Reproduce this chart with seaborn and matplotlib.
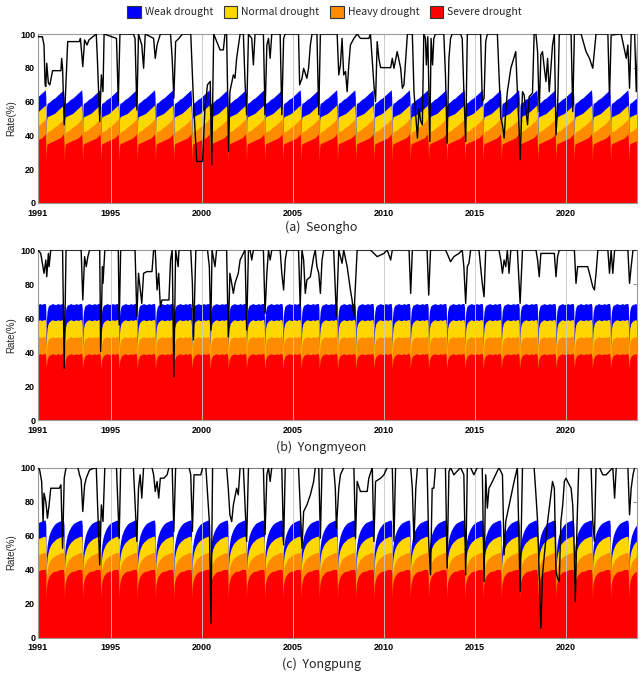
import numpy as np
import pandas as pd
import matplotlib
matplotlib.use("Agg")
import matplotlib.pyplot as plt
from matplotlib.patches import Patch
import seaborn as sns

# ---------------- data ----------------
years = list(range(1991, 2024))
band_names = ["Weak drought", "Normal drought", "Heavy drought", "Severe drought"]
band_colors = ["#0000FF", "#FFD700", "#FF8C00", "#FF0000"]
panel_titles = ["(a)  Seongho", "(b)  Yongmyeon", "(c)  Yongpung"]
xtick_years = [1991, 1995, 2000, 2005, 2010, 2015, 2020]
ytick_vals = [0, 20, 40, 60, 80, 100]

# annual criterion profiles (fraction of year -> upper limit of each drought class, %)
a_frac = [0.00, 0.10, 0.20, 0.30, 0.40, 0.43, 0.45, 0.47, 0.50, 0.60, 0.70, 0.80, 0.90, 1.00]
a_weak = [63.0, 64.0, 65.0, 66.0, 67.0, 62.0, 38.0, 57.0, 59.0, 59.5, 60.5, 61.5, 62.0, 63.0]
a_normal = [54.0, 55.0, 56.0, 57.0, 58.0, 52.0, 33.0, 49.0, 51.0, 51.5, 52.0, 52.5, 53.0, 54.0]
a_heavy = [45.5, 46.5, 47.5, 48.5, 50.0, 44.0, 28.0, 40.0, 42.0, 42.5, 43.0, 44.0, 45.0, 45.5]
a_severe = [37.5, 38.0, 38.5, 39.5, 41.0, 36.0, 24.5, 33.0, 35.0, 35.5, 36.0, 36.5, 37.0, 37.5]

b_frac = [0.00, 0.10, 0.20, 0.30, 0.40, 0.43, 0.45, 0.47, 0.50, 0.55, 0.60, 0.70, 0.80, 0.90, 1.00]
b_weak = [68.0, 68.5, 68.0, 68.5, 68.5, 66.0, 47.0, 60.0, 64.0, 66.5, 67.5, 68.0, 68.5, 68.0, 68.0]
b_normal = [58.5, 59.0, 58.5, 59.0, 59.0, 56.0, 41.0, 50.0, 54.0, 56.5, 57.5, 58.5, 59.0, 58.5, 58.5]
b_heavy = [48.5, 49.0, 48.5, 49.0, 49.0, 46.0, 35.0, 42.0, 45.0, 47.0, 48.0, 48.5, 49.0, 48.5, 48.5]
b_severe = [38.5, 39.0, 38.5, 39.0, 39.0, 36.5, 30.0, 33.0, 35.5, 37.0, 38.0, 38.5, 39.0, 38.5, 38.5]

c_frac = [0.00, 0.10, 0.20, 0.30, 0.40, 0.43, 0.45, 0.47, 0.50, 0.55, 0.60, 0.70, 0.80, 0.90, 1.00]
c_weak = [67.5, 68.0, 68.5, 69.0, 69.0, 66.0, 36.0, 50.0, 54.0, 57.5, 60.0, 63.0, 65.0, 66.5, 67.5]
c_normal = [58.0, 58.5, 59.0, 59.5, 59.5, 56.0, 30.0, 43.0, 47.0, 50.0, 52.0, 54.5, 56.0, 57.0, 58.0]
c_heavy = [48.5, 49.0, 49.5, 50.0, 50.0, 47.0, 26.0, 37.0, 40.0, 42.5, 44.0, 46.0, 47.0, 48.0, 48.5]
c_severe = [39.0, 39.5, 40.0, 40.0, 40.0, 37.0, 23.0, 30.0, 32.5, 34.5, 36.0, 37.5, 38.5, 39.0, 39.0]

# storage rate (%) of each reservoir: (decimal year, value)
a_time = [1991.00, 1991.24, 1991.33, 1991.39, 1991.43, 1991.48, 1991.57, 1991.65, 1991.70, 1991.80,
          1992.26, 1992.30, 1992.35, 1992.44, 1992.63, 1993.28, 1993.33, 1993.46, 1993.56, 1993.69,
          1993.80, 1994.20, 1994.26, 1994.39, 1994.48, 1994.57, 1994.63, 1995.31, 1995.41, 1995.50,
          1996.24, 1996.33, 1996.43, 1996.52, 1996.70, 1996.80, 1996.89, 1997.35, 1997.44, 1997.54,
          1997.72, 1998.28, 1998.37, 1998.46, 1998.56, 1998.74, 1998.93, 1999.39, 1999.54, 1999.72,
          2000.04, 2000.17, 2000.31, 2000.46, 2000.54, 2000.65, 2001.00, 2001.18, 2001.27, 2001.36,
          2001.47, 2001.54, 2001.73, 2001.82, 2001.91, 2002.10, 2002.28, 2002.37, 2002.46, 2002.56,
          2002.74, 2002.83, 2002.92, 2003.38, 2003.47, 2003.57, 2003.66, 2003.75, 2003.84, 2004.30,
          2004.39, 2004.49, 2004.58, 2005.31, 2005.37, 2005.50, 2005.59, 2005.77, 2005.86, 2005.96,
          2006.05, 2006.32, 2006.42, 2006.51, 2007.43, 2007.52, 2007.61, 2007.70, 2007.79, 2007.89,
          2007.98, 2008.07, 2008.16, 2008.35, 2008.53, 2008.71, 2009.17, 2009.26, 2009.45, 2009.54,
          2009.63, 2009.72, 2009.82, 2010.37, 2010.46, 2010.55, 2010.73, 2010.92, 2011.01, 2011.10,
          2011.29, 2011.56, 2011.65, 2011.84, 2011.93, 2012.02, 2012.11, 2012.19, 2012.28, 2012.33,
          2012.41, 2012.52, 2012.59, 2012.67, 2012.74, 2012.83, 2013.29, 2013.38, 2013.47, 2013.57,
          2013.66, 2013.75, 2014.21, 2014.30, 2014.39, 2014.49, 2014.58, 2015.31, 2015.40, 2015.50,
          2015.59, 2015.68, 2016.23, 2016.42, 2016.51, 2016.60, 2016.69, 2016.78, 2016.97, 2017.24,
          2017.33, 2017.43, 2017.48, 2017.61, 2017.70, 2017.89, 2017.98, 2018.16, 2018.25, 2018.35,
          2018.44, 2018.53, 2018.62, 2018.71, 2018.81, 2018.90, 2018.99, 2019.08, 2019.26, 2019.36,
          2019.45, 2019.54, 2019.63, 2020.28, 2020.37, 2020.46, 2020.83, 2021.10, 2021.29, 2021.47,
          2021.56, 2021.65, 2022.30, 2022.39, 2022.48, 2023.03, 2023.31, 2023.40, 2023.49, 2023.58,
          2023.77, 2023.86, 2023.95]
a_rate = [98.4, 98.4, 93.5, 69.9, 68.9, 82.7, 70.9, 69.9, 72.8, 78.3,
          78.3, 85.6, 79.7, 46.3, 95.5, 95.5, 97.4, 80.7, 96.5, 93.5,
          96.5, 100.0, 85.6, 48.2, 75.8, 65.9, 100.0, 97.4, 60.0, 100.0,
          100.0, 97.4, 55.0, 100.0, 93.5, 79.7, 100.0, 97.4, 85.6, 93.5,
          100.0, 100.0, 85.6, 62.0, 95.5, 97.4, 100.0, 100.0, 60.0, 24.6,
          24.6, 56.0, 70.0, 72.0, 22.6, 100.0, 90.6, 90.6, 100.0, 100.0,
          30.5, 65.9, 75.8, 73.8, 85.6, 100.0, 100.0, 72.0, 52.2, 100.0,
          97.4, 81.7, 100.0, 100.0, 52.2, 93.5, 97.4, 85.6, 100.0, 100.0,
          52.2, 97.4, 100.0, 100.0, 69.9, 73.8, 79.7, 73.8, 79.7, 93.5,
          100.0, 100.0, 52.2, 100.0, 100.0, 75.8, 81.7, 97.4, 75.8, 77.8,
          65.9, 81.7, 93.5, 97.4, 100.0, 97.4, 97.4, 100.0, 69.9, 60.0,
          95.5, 85.6, 80.1, 80.1, 85.6, 79.7, 89.6, 79.7, 67.9, 69.9,
          100.0, 100.0, 65.9, 38.4, 56.1, 48.2, 46.3, 100.0, 97.4, 81.7,
          98.4, 36.4, 97.4, 81.7, 97.4, 100.0, 100.0, 75.8, 35.4, 85.6,
          97.4, 100.0, 100.0, 97.4, 65.9, 36.4, 100.0, 100.0, 60.0, 62.0,
          95.5, 100.0, 100.0, 50.2, 46.3, 38.4, 54.1, 65.9, 79.7, 89.6,
          65.9, 42.3, 25.6, 65.9, 64.0, 46.3, 63.0, 65.0, 100.0, 100.0,
          89.6, 54.1, 87.6, 89.6, 79.7, 71.9, 85.6, 65.9, 93.5, 100.0,
          40.4, 56.1, 100.0, 100.0, 54.1, 100.0, 100.0, 89.6, 85.6, 79.7,
          89.6, 100.0, 100.0, 62.0, 99.4, 100.0, 85.6, 93.5, 67.9, 100.0,
          100.0, 65.9, 99.4]

b_time = [1991.00, 1991.15, 1991.24, 1991.33, 1991.43, 1991.48, 1991.57, 1991.61, 1991.70, 1992.35,
          1992.44, 1992.54, 1993.37, 1993.46, 1993.56, 1993.65, 1993.74, 1993.83, 1994.39, 1994.44,
          1994.54, 1994.57, 1994.67, 1995.41, 1995.46, 1995.54, 1996.33, 1996.43, 1996.52, 1996.70,
          1996.80, 1996.98, 1997.26, 1997.35, 1997.44, 1997.54, 1997.63, 1997.72, 1997.81, 1998.19,
          1998.28, 1998.37, 1998.46, 1998.56, 1998.70, 1998.74, 1999.39, 1999.48, 1999.54, 1999.67,
          2000.31, 2000.41, 2000.49, 2000.56, 2000.72, 2000.81, 2001.36, 2001.45, 2001.54, 2001.64,
          2001.73, 2001.82, 2002.00, 2002.10, 2002.19, 2002.37, 2002.46, 2002.56, 2002.65, 2002.74,
          2002.83, 2003.38, 2003.47, 2003.57, 2003.66, 2003.75, 2003.84, 2004.30, 2004.39, 2004.49,
          2004.58, 2004.67, 2005.31, 2005.40, 2005.50, 2005.59, 2005.68, 2005.77, 2005.96, 2006.14,
          2006.23, 2006.32, 2006.42, 2006.51, 2006.60, 2006.69, 2007.24, 2007.39, 2007.52, 2007.70,
          2007.79, 2007.98, 2008.16, 2008.25, 2008.35, 2008.44, 2008.53, 2009.26, 2009.45, 2009.63,
          2010.00, 2010.18, 2010.37, 2010.46, 2011.38, 2011.47, 2011.56, 2012.37, 2012.46, 2012.56,
          2013.38, 2013.47, 2013.66, 2013.84, 2014.12, 2014.30, 2014.39, 2014.49, 2014.58, 2014.67,
          2014.76, 2015.22, 2015.40, 2015.50, 2015.59, 2016.32, 2016.42, 2016.51, 2016.60, 2016.69,
          2016.78, 2016.87, 2016.97, 2017.33, 2017.48, 2017.61, 2018.35, 2018.44, 2018.53, 2018.62,
          2019.36, 2019.45, 2019.54, 2019.63, 2020.46, 2020.55, 2020.64, 2021.19, 2021.29, 2021.47,
          2021.56, 2021.65, 2021.75, 2022.30, 2022.39, 2022.48, 2022.57, 2022.67, 2023.40, 2023.49,
          2023.58, 2023.68, 2023.95]
b_rate = [100.0, 98.0, 92.2, 86.3, 94.1, 84.3, 98.0, 90.2, 100.0, 100.0,
          30.4, 100.0, 100.0, 70.6, 96.1, 90.2, 96.1, 100.0, 100.0, 40.2,
          90.2, 80.4, 100.0, 100.0, 55.9, 100.0, 100.0, 60.8, 86.3, 68.6,
          86.3, 87.3, 87.3, 100.0, 100.0, 76.5, 86.3, 66.7, 70.6, 70.6,
          94.1, 100.0, 25.5, 100.0, 90.2, 100.0, 100.0, 80.4, 47.1, 100.0,
          100.0, 90.2, 52.9, 100.0, 90.2, 100.0, 100.0, 49.0, 86.3, 80.4,
          74.5, 80.4, 86.3, 94.1, 96.1, 100.0, 52.9, 100.0, 100.0, 94.1,
          100.0, 100.0, 62.7, 86.3, 100.0, 94.1, 100.0, 100.0, 86.3, 76.5,
          94.1, 100.0, 100.0, 66.7, 100.0, 94.1, 74.5, 82.4, 84.3, 96.1,
          100.0, 90.2, 86.3, 74.5, 94.1, 100.0, 100.0, 60.8, 100.0, 92.2,
          100.0, 90.2, 76.5, 70.6, 60.8, 80.4, 100.0, 100.0, 98.0, 96.1,
          98.0, 100.0, 94.1, 100.0, 100.0, 74.5, 100.0, 100.0, 73.5, 100.0,
          100.0, 98.0, 93.1, 96.1, 98.0, 100.0, 90.2, 68.6, 90.2, 92.2,
          100.0, 100.0, 80.4, 72.5, 100.0, 100.0, 94.1, 86.3, 94.1, 90.2,
          100.0, 86.3, 100.0, 100.0, 68.6, 100.0, 100.0, 94.1, 84.3, 98.0,
          98.0, 84.3, 96.1, 100.0, 100.0, 80.4, 90.2, 90.2, 86.3, 78.4,
          76.5, 86.3, 100.0, 100.0, 86.3, 100.0, 86.3, 100.0, 100.0, 80.4,
          90.2, 100.0, 100.0]

c_time = [1991.00, 1991.09, 1991.20, 1991.28, 1991.33, 1991.43, 1991.52, 1991.61, 1991.70, 1992.17,
          1992.26, 1992.35, 1992.44, 1992.54, 1993.19, 1993.28, 1993.37, 1993.46, 1993.56, 1993.65,
          1993.83, 1994.20, 1994.39, 1994.48, 1994.57, 1994.67, 1995.31, 1995.46, 1995.54, 1996.24,
          1996.43, 1996.52, 1996.61, 1996.70, 1996.80, 1997.26, 1997.35, 1997.44, 1997.54, 1997.63,
          1997.72, 1997.91, 1998.09, 1998.19, 1998.37, 1998.46, 1998.56, 1999.30, 1999.39, 1999.48,
          1999.57, 1999.94, 2000.04, 2000.22, 2000.41, 2000.50, 2000.59, 2001.36, 2001.45, 2001.54,
          2001.64, 2001.73, 2001.91, 2002.00, 2002.10, 2002.28, 2002.46, 2002.56, 2003.38, 2003.47,
          2003.57, 2003.66, 2003.75, 2003.84, 2004.39, 2004.49, 2004.58, 2005.31, 2005.50, 2005.59,
          2005.77, 2005.96, 2006.14, 2006.23, 2006.42, 2006.51, 2006.60, 2007.24, 2007.33, 2007.39,
          2007.52, 2007.61, 2007.79, 2008.35, 2008.44, 2008.53, 2008.71, 2009.08, 2009.17, 2009.36,
          2009.45, 2009.54, 2009.82, 2010.00, 2010.18, 2010.46, 2010.55, 2010.64, 2011.47, 2011.56,
          2011.65, 2011.75, 2011.84, 2012.37, 2012.46, 2012.56, 2012.65, 2012.74, 2012.83, 2013.38,
          2013.47, 2013.57, 2013.66, 2013.84, 2014.21, 2014.39, 2014.49, 2014.58, 2014.76, 2014.94,
          2015.13, 2015.40, 2015.50, 2015.59, 2015.68, 2015.77, 2015.96, 2016.32, 2016.51, 2016.60,
          2016.69, 2016.88, 2017.15, 2017.33, 2017.48, 2017.61, 2018.25, 2018.35, 2018.44, 2018.53,
          2018.62, 2018.71, 2018.81, 2018.99, 2019.26, 2019.36, 2019.45, 2019.54, 2019.63, 2019.72,
          2019.82, 2019.91, 2020.00, 2020.18, 2020.28, 2020.37, 2020.46, 2020.51, 2020.61, 2020.70,
          2021.38, 2021.47, 2021.56, 2021.65, 2021.84, 2022.02, 2022.21, 2022.57, 2022.67, 2022.76,
          2023.40, 2023.49, 2023.58, 2023.68, 2023.77, 2023.95]
c_rate = [100.0, 98.6, 91.8, 68.2, 84.9, 80.0, 70.2, 78.0, 87.8, 87.8,
          89.8, 52.5, 93.7, 100.0, 100.0, 95.7, 92.7, 74.1, 89.8, 93.7,
          98.6, 100.0, 42.7, 78.0, 68.2, 100.0, 100.0, 58.4, 100.0, 100.0,
          56.5, 87.8, 95.7, 82.0, 100.0, 100.0, 95.7, 85.9, 91.8, 82.0,
          93.7, 93.7, 95.7, 100.0, 100.0, 62.4, 100.0, 100.0, 95.7, 62.4,
          95.7, 95.7, 100.0, 100.0, 68.2, 8.4, 100.0, 100.0, 87.8, 72.2,
          68.2, 78.0, 87.8, 83.9, 100.0, 100.0, 56.5, 100.0, 100.0, 60.4,
          95.7, 100.0, 91.8, 100.0, 100.0, 54.5, 100.0, 100.0, 52.5, 74.1,
          78.0, 83.9, 91.8, 100.0, 100.0, 58.4, 100.0, 100.0, 87.8, 64.3,
          87.8, 95.7, 100.0, 100.0, 58.4, 91.8, 85.9, 85.9, 93.7, 100.0,
          56.5, 91.8, 93.7, 95.7, 100.0, 100.0, 56.5, 100.0, 100.0, 87.8,
          56.5, 87.8, 100.0, 100.0, 56.5, 36.9, 87.8, 87.8, 100.0, 100.0,
          40.8, 97.6, 100.0, 95.7, 100.0, 95.7, 36.9, 100.0, 100.0, 95.7,
          100.0, 100.0, 32.9, 95.7, 76.1, 87.8, 91.8, 100.0, 95.7, 48.6,
          68.2, 78.0, 91.8, 100.0, 27.1, 100.0, 100.0, 83.9, 68.2, 36.9,
          5.5, 36.9, 48.6, 68.2, 91.8, 87.8, 38.8, 34.9, 32.9, 68.2,
          78.0, 91.8, 93.7, 89.8, 87.8, 78.0, 48.6, 21.2, 68.2, 100.0,
          100.0, 68.2, 56.5, 100.0, 100.0, 95.7, 95.7, 100.0, 82.0, 100.0,
          100.0, 72.2, 87.8, 95.7, 100.0, 100.0]

# ---------------- figure ----------------
sns.set_theme(style="white")
plt.rcParams["font.family"] = ["Liberation Sans", "DejaVu Sans"]

W, H = 643, 674
fig = plt.figure(figsize=(W / 100, H / 100), dpi=100)

panels = [
    dict(frac=a_frac, bands=[a_weak, a_normal, a_heavy, a_severe], t=a_time, r=a_rate, top=34, bot=203, title_y=227),
    dict(frac=b_frac, bands=[b_weak, b_normal, b_heavy, b_severe], t=b_time, r=b_rate, top=250, bot=420, title_y=447),
    dict(frac=c_frac, bands=[c_weak, c_normal, c_heavy, c_severe], t=c_time, r=c_rate, top=467.5, bot=637.5, title_y=664),
]

x_left, x_right = 38, 637
for i, p in enumerate(panels):
    ax = fig.add_axes([x_left / W, 1 - p["bot"] / H, (x_right - x_left) / W, (p["bot"] - p["top"]) / H])
    frac = np.asarray(p["frac"])
    tt = np.concatenate([y + frac for y in years])
    for name, col, prof in zip(band_names, band_colors, p["bands"]):
        vals = np.concatenate([np.asarray(prof) for _ in years])
        ax.fill_between(tt, 0, vals, color=col, linewidth=0, zorder=1)
    for xv in xtick_years[1:]:
        ax.axvline(xv, color="#c8c8c8", lw=0.6, zorder=2)
    df = pd.DataFrame({"year": p["t"], "rate": p["r"]})
    sns.lineplot(data=df, x="year", y="rate", ax=ax, color="black", lw=1.0,
                 estimator=None, sort=False, zorder=5)
    ax.set_xlim(1991, 2023.9)
    ax.set_ylim(0, 100)
    ax.set_xticks(xtick_years)
    ax.set_xticklabels([str(v) for v in xtick_years], fontsize=6.5, fontweight="bold")
    ax.set_yticks(ytick_vals)
    ax.set_yticklabels([str(v) for v in ytick_vals], fontsize=6.5, fontweight="bold")
    ax.tick_params(axis="both", direction="in", length=3, width=0.6, color="#777777",
                   top=True, right=True, labelcolor="black")
    ax.tick_params(axis="x", pad=4)
    ax.tick_params(axis="y", pad=2)
    ax.set_xlabel("")
    ax.set_ylabel("Rate(%)", fontsize=7, labelpad=3)
    for s in ax.spines.values():
        s.set_color("#999999")
        s.set_linewidth(0.8)
        s.set_zorder(4)
    fig.text(0.5, 1 - p["title_y"] / H, panel_titles[i], ha="center", va="center",
             fontsize=9, family=["Noto Sans CJK KR", "DejaVu Sans"])

handles = [Patch(facecolor=c, edgecolor="#333333", linewidth=0.8, label=n)
           for n, c in zip(band_names, band_colors)]
fig.legend(handles=handles, loc="center", bbox_to_anchor=(0.505, 1 - 12 / H), ncol=4,
           frameon=False, handlelength=1.3, handleheight=1.3,
           handletextpad=0.4, columnspacing=1.0,
           prop={"family": ["Noto Sans CJK KR", "DejaVu Sans"], "size": 7.5})

fig.savefig("out.png", dpi=100)
